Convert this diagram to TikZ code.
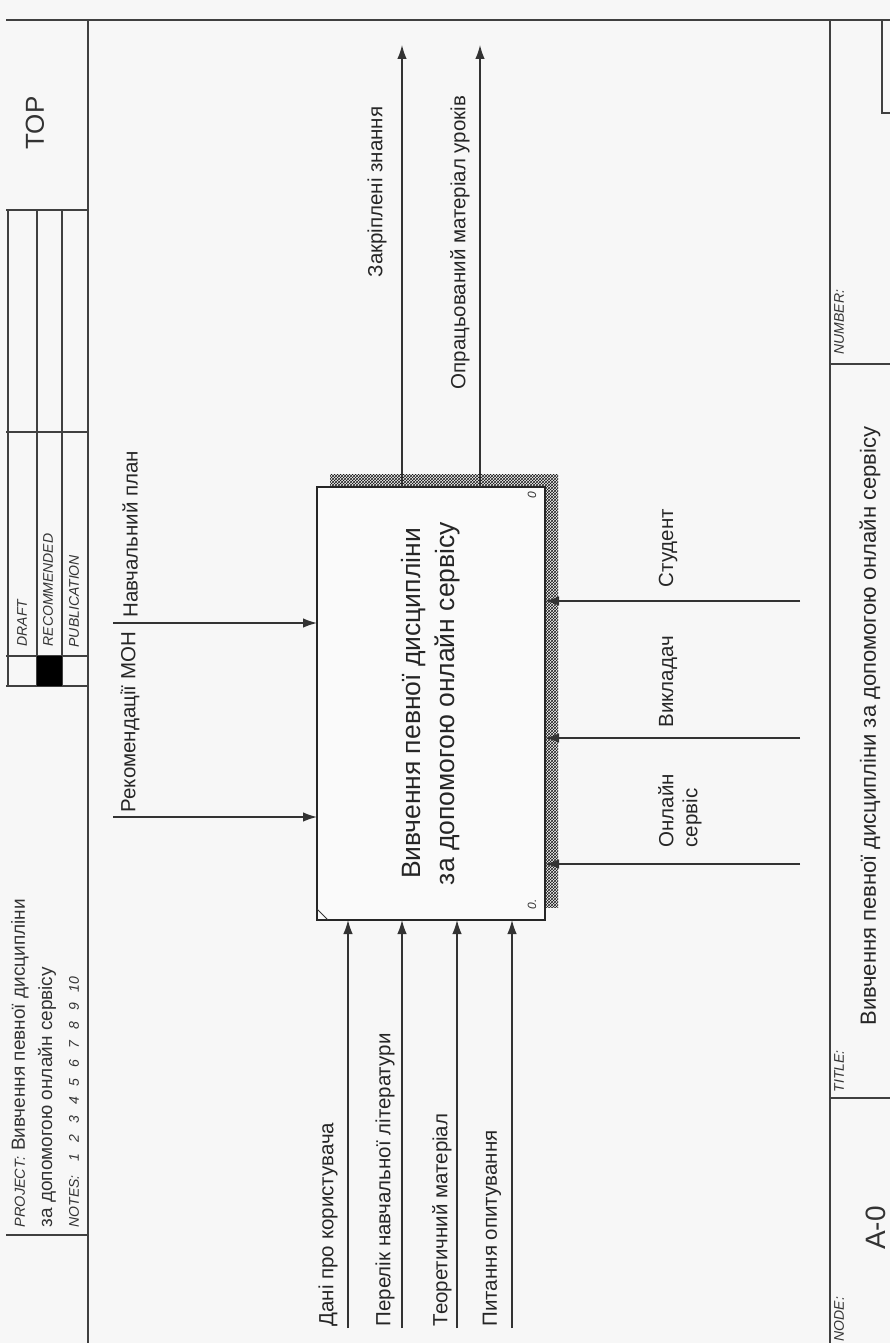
\documentclass[tikz,border=0pt]{standalone}
\usepackage{fontspec}
\setmainfont{Liberation Sans}
\usetikzlibrary{arrows.meta,patterns}

\begin{document}
\begin{tikzpicture}[x=1pt, y=1pt, >={Latex[length=14pt,width=9.5pt]},
	line width=1.3pt, color=black!80,
	rule/.style={draw=black!75, line width=1.5pt},
	func/.style={draw=black!85, fill=black!2, line width=1.4pt, minimum width=433pt, minimum height=228pt, inner sep=0pt, align=center, text=black!85, font=\fontsize{26.5}{34}\selectfont},
	lbl/.style={inner sep=0pt, anchor=west, text=black!85, font=\fontsize{20.5}{24}\selectfont},
	hdr/.style={inner sep=0pt, anchor=west, text=black!80, font=\fontsize{19}{22}\selectfont},
	tag/.style={inner sep=0pt, anchor=west, text=black!80, font=\fontsize{14}{16}\selectfont\itshape}]

	\useasboundingbox (0,0) rectangle (890,-1343);
	\fill [black!3] (0,0) rectangle (890,-1343);

	\begin{scope}[shift={(890,-1343)}, rotate=90, transform shape]

	% Frame
	\draw [rule] (1323,0) -- (1323,884);
	\draw [rule] (0,802) -- (1323,802);
	\draw [rule] (0,60) -- (1323,60);
	\foreach \u in {108,657,687,911,1133}
		\draw [rule] (\u,802) -- (\u,884);
	\foreach \v in {828,853,882}
		\draw [rule] (657,\v) -- (1133,\v);
	\fill [black] (657,828) rectangle (687,853);
	\foreach \u in {245,979}
		\draw [rule] (\u,0) -- (\u,60);
	\draw [rule] (1323,8) -- (1230,8) -- (1230,0);

	% Header and footer texts
	\node [font=\fontsize{26}{28}\selectfont] (top) at (1220,855) {TOP};
	\node [tag] (draft) at (696,868) {DRAFT};
	\node [tag] (recom) at (696,842) {RECOMMENDED};
	\node [tag] (publ)  at (695,816) {PUBLICATION};
	\node [hdr] (proj)  at (115,870) {{\itshape\fontsize{14.5}{16}\selectfont PROJECT:}\hspace{6pt}Вивчення певної дисципліни};
	\node [hdr] (proj2) at (115,843) {за допомогою онлайн сервісу};
	\node [tag] (notes) at (115,816) {NOTES:\hspace{14pt}1\hspace{11pt}2\hspace{11pt}3\hspace{11pt}4\hspace{11pt}5\hspace{11pt}6\hspace{11pt}7\hspace{11pt}8\hspace{11pt}9\hspace{11pt}10};
	\node [tag] (number)  at (988,51) {NUMBER:};
	\node [tag] (title)   at (250,51) {TITLE:};
	\node [tag] (nodelbl) at (1,51)   {NODE:};
	\node [font=\fontsize{28}{30}\selectfont] (nodeno) at (115,14) {A-0};
	\node [lbl, font=\fontsize{22}{26}\selectfont] (titletxt) at (317,20) {Вивчення певної дисципліни за допомогою онлайн сервісу};

	% Function box
	\fill [pattern=crosshatch, pattern color=black!90] (436,332) rectangle (869,560);
	\node [func] (fn) at (639.5,459) {Вивчення певної дисципліни\\за допомогою онлайн сервісу};
	\draw [line width=0.8pt] (423,562) -- (434,573);
	\node [tag, font=\fontsize{12}{14}\selectfont\itshape] (boxno) at (844,358) {0};
	\node [tag, font=\fontsize{12}{14}\selectfont\itshape] (cost)  at (433,358) {0.};

	% Arrow ends: inputs at u=423, controls at v=573, outputs from u=856, mechanisms at v=345
	\foreach \n/\v in {1/542,2/488,3/433,4/378} {
		\coordinate (in\n) at (15,\v);
		\coordinate (in\n-e) at (423,\v);
		\draw [->] (in\n) -- (in\n-e);
	}
	\foreach \n/\u in {1/526,2/720} {
		\coordinate (ctl\n) at (\u,777);
		\coordinate (ctl\n-e) at (\u,573);
		\draw [->] (ctl\n) -- (ctl\n-e);
	}
	\foreach \n/\v in {1/488,2/410} {
		\coordinate (out\n-s) at (856,\v);
		\coordinate (out\n) at (1298,\v);
		\draw [->] (out\n-s) -- (out\n);
	}
	\foreach \n/\u in {1/742,2/605,3/479} {
		\coordinate (mec\n) at (\u,90);
		\coordinate (mec\n-e) at (\u,345);
		\draw [->] (mec\n) -- (mec\n-e);
	}

	% Labels
	\node [lbl] (l-ctl1) at (530,760)  {Рекомендації МОН};
	\node [lbl] (l-ctl2) at (725,760)  {Навчальний план};
	\node [lbl] (l-out1) at (1065,513) {Закріплені знання};
	\node [lbl] (l-out2) at (953,430)  {Опрацьований матеріал уроків};
	\node [lbl] (l-in1)  at (16,562)   {Дані про користувача};
	\node [lbl] (l-in2)  at (16,505)   {Перелік навчальної літератури};
	\node [lbl] (l-in3)  at (16,448)   {Теоретичний матеріал};
	\node [lbl] (l-in4)  at (16,398)   {Питання опитування};
	\node [lbl] (l-mec1) at (755,222)  {Студент};
	\node [lbl] (l-mec2) at (615,222)  {Викладач};
	\node [lbl, align=left] (l-mec3) at (495,210) {Онлайн\\сервіс};

	\end{scope}
\end{tikzpicture}
\end{document}
